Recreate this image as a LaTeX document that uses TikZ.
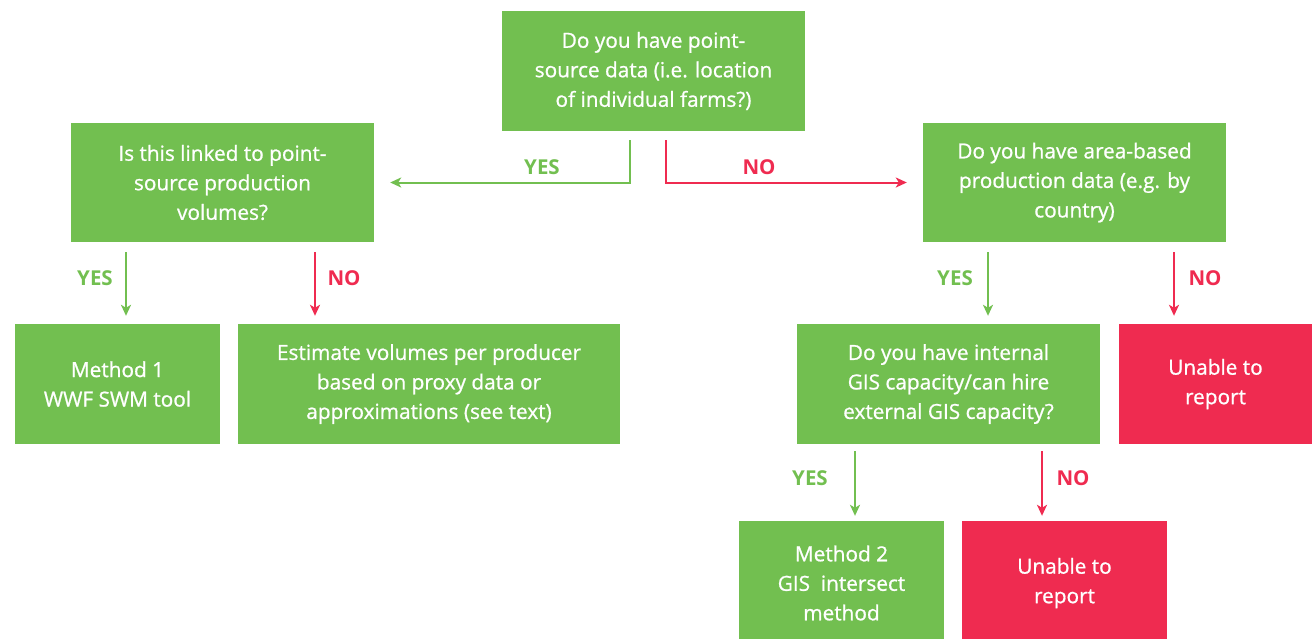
\documentclass[tikz,border=0pt]{standalone}
\usepackage{fontspec}
\setmainfont{Open Sans}
\newfontfamily\boxfont{Open Sans}[FakeBold=0.9]
\usetikzlibrary{arrows.meta,calc}
\definecolor{gr}{HTML}{72BF50}
\definecolor{rd}{HTML}{EF2B50}
\begin{document}
\begin{tikzpicture}[x=1pt,y=-1pt,
  box/.style={fill=gr,text=white,inner sep=0pt,align=center,font=\boxfont\fontsize{20.8}{29.5}\selectfont},
  rbox/.style={box,fill=rd},
  ga/.style={draw=gr,line width=2pt,-{Stealth[length=11pt,width=10pt,inset=3pt]}},
  ra/.style={ga,draw=rd},
  yes/.style={text=gr,font=\bfseries\fontsize{20.5}{22}\selectfont},
  no/.style={text=rd,font=\bfseries\fontsize{20.5}{22}\selectfont}]
\useasboundingbox (0,0) rectangle (1312,638);
\node[box,minimum width=303pt,minimum height=120pt] (top) at (653.5,71) {Do you have point-\\source data (i.e. location\\of individual farms?)};
\node[box,minimum width=303pt,minimum height=119pt] (lq) at (222.5,182.5) {Is this linked to point-\\source production\\volumes?};
\node[box,minimum width=303pt,minimum height=119pt] (rq) at (1074.5,182.5) {Do you have area-based\\production data (e.g. by\\country)};
\node[box,minimum width=205pt,minimum height=120pt] (m1) at (117.5,384) {Method 1\\WWF SWM tool};
\node[box,minimum width=382pt,minimum height=120pt] (est) at (429,384) {Estimate volumes per producer\\based on proxy data or\\approximations (see text)};
\node[box,minimum width=303pt,minimum height=120pt] (gis) at (948.5,384) {Do you have internal\\GIS capacity/can hire\\external GIS capacity?};
\node[rbox,minimum width=193pt,minimum height=120pt] (un1) at (1215.5,384) {Unable to\\report};
\node[box,minimum width=205pt,minimum height=124pt] (m2) at (841.5,583) {Method 2\\GIS\ \ intersect\\method};
\node[rbox,minimum width=205pt,minimum height=124pt] (un2) at (1064.5,583) {Unable to\\report};

\draw[ga] ($(top.south)+(-23.5,9)$) |- ([xshift=16pt]lq.east);
\draw[ra] ($(top.south)+(12.5,9)$) |- ([xshift=-16pt]rq.west);
\node[yes] (y0) at (542,167) {YES};
\node[no] (n0) at (759,167) {NO};

\draw[ga] ($(lq.south)+(-96.5,10)$) -- ($(m1.north)+(8.5,-8)$);
\draw[ra] ($(lq.south)+(92.5,10)$) -- ($(est.north)+(-114,-8)$);
\node[yes] (y1) at (95,278) {YES};
\node[no] (n1) at (344,278) {NO};

\draw[ga] ($(rq.south)+(-86.5,10)$) -- ($(gis.north)+(39.5,-8)$);
\draw[ra] ($(rq.south)+(99.5,10)$) -- ($(un1.north)+(-41.5,-8)$);
\node[yes] (y2) at (955,278) {YES};
\node[no] (n2) at (1205,278) {NO};

\draw[ga] ($(gis.south)+(-93.5,7)$) -- ($(m2.north)+(13.5,-5)$);
\draw[ra] ($(gis.south)+(93.5,7)$) -- ($(un2.north)+(-22.5,-5)$);
\node[yes] (y3) at (810,478) {YES};
\node[no] (n3) at (1073,478) {NO};
\end{tikzpicture}
\end{document}
